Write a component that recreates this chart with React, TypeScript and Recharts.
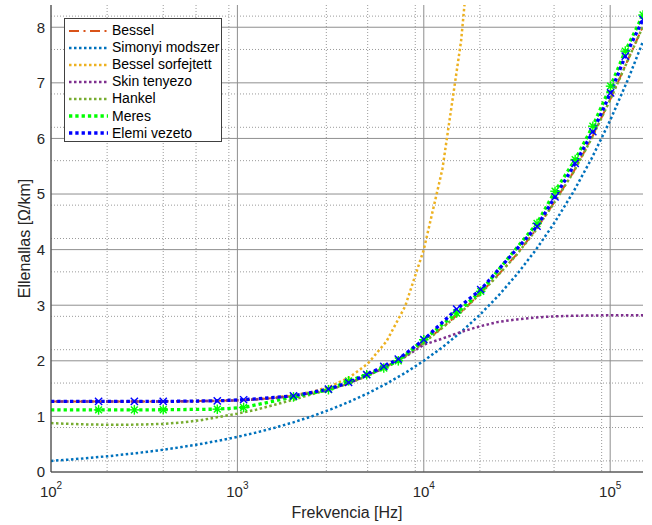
import React from "react"
import { LineChart, Line, XAxis, YAxis, CartesianGrid, Legend } from "recharts"

const FONT = '"Liberation Sans", Arial, Helvetica, sans-serif'
const TEXT = "#262626"

// frequency grid of the computed curves [Hz]
const freq = [
  100, 126, 158, 200, 251, 316, 398, 501, 631, 794, 1000, 1259, 1585, 1995, 2512, 3162, 3981, 5012, 6310, 7943,
  10000, 12589, 15849, 19953, 25119, 31623, 39811, 50119, 63096, 79433, 100000, 125893, 150000,
]

// resistance [Ohm/km]
const bessel = [
  1.27, 1.27, 1.27, 1.27, 1.27, 1.27, 1.27, 1.272, 1.275, 1.28, 1.29, 1.305, 1.33, 1.37, 1.42, 1.49, 1.6, 1.74, 1.9,
  2.09, 2.33, 2.6, 2.88, 3.2, 3.55, 3.92, 4.35, 4.85, 5.38, 6.0, 6.7, 7.45, 8.02,
]
const simonyi = [
  0.2, 0.224, 0.251, 0.283, 0.317, 0.356, 0.399, 0.448, 0.502, 0.564, 0.632, 0.71, 0.796, 0.893, 1.002, 1.125, 1.262,
  1.416, 1.589, 1.782, 2.0, 2.244, 2.518, 2.825, 3.17, 3.557, 3.99, 4.478, 5.024, 5.637, 6.325, 7.096, 7.746,
]
const sorfejtett = [
  1.27, 1.27, 1.27, 1.27, 1.27, 1.27, 1.271, 1.273, 1.276, 1.282, 1.29, 1.31, 1.34, 1.38, 1.44, 1.54, 1.7, 1.95, 2.35,
  2.98, 4.0, 5.45, 7.75, 11.3, null, null, null, null, null, null, null, null, null,
]
const skin = [
  1.27, 1.27, 1.27, 1.27, 1.27, 1.27, 1.27, 1.272, 1.275, 1.28, 1.29, 1.305, 1.33, 1.37, 1.42, 1.49, 1.6, 1.74, 1.89,
  2.07, 2.29, 2.4, 2.52, 2.62, 2.7, 2.745, 2.78, 2.8, 2.81, 2.815, 2.82, 2.82, 2.82,
]
const hankel = [
  0.88, 0.865, 0.855, 0.85, 0.85, 0.855, 0.865, 0.89, 0.93, 0.99, 1.05, 1.12, 1.21, 1.3, 1.4, 1.485, 1.595, 1.735,
  1.895, 2.085, 2.325, 2.595, 2.875, 3.195, 3.545, 3.915, 4.345, 4.845, 5.375, 5.995, 6.695, 7.445, 8.015,
]

// measured frequencies
const measFreq = [
  100, 180, 280, 400, 780, 1080, 2000, 3080, 3950, 4940, 6100, 7300, 10000, 15000, 20200, 40500, 50600, 64900, 80700,
  100500, 120500, 150000,
]
const meres = [
  1.117, 1.117, 1.117, 1.12, 1.13, 1.16, 1.35, 1.48, 1.64, 1.75, 1.87, 2.0, 2.38, 2.86, 3.25, 4.47, 5.05, 5.62, 6.22,
  6.94, 7.57, 8.22,
]
const elemi = [
  1.27, 1.27, 1.27, 1.27, 1.28, 1.3, 1.37, 1.49, 1.61, 1.75, 1.9, 2.03, 2.38, 2.93, 3.28, 4.42, 4.95, 5.55, 6.12,
  6.82, 7.48, 8.14,
]

const xTicks = [100, 1000, 10000, 100000]
const yTicks = [0, 1, 2, 3, 4, 5, 6, 7, 8]

const xMinor: number[] = []
for (const d of [100, 1000, 10000, 100000]) {
  for (let m = 2; m <= 9; m++) if (d * m <= 150000) xMinor.push(d * m)
}
const yMinor: number[] = []
for (let i = 1; i < 42; i++) if (i % 5 !== 0) yMinor.push(Math.round(i * 2) / 10)

const series = [
  { key: "bessel", name: "Bessel", color: "#D95319", width: 2, dash: "10 4.5 2 4.5" },
  { key: "simonyi", name: "Simonyi modszer", color: "#0072BD", width: 2.5, dash: "2.5 2.5" },
  { key: "sorfejtett", name: "Bessel sorfejtett", color: "#EDB120", width: 2.5, dash: "2.5 2.5" },
  { key: "skin", name: "Skin tenyezo", color: "#7E2F8E", width: 2.5, dash: "2.5 2.5" },
  { key: "hankel", name: "Hankel", color: "#77AC30", width: 2.5, dash: "2.5 2.5" },
  { key: "meres", name: "Meres", color: "#00FF00", width: 3.3, dash: "3.3 3" },
  { key: "elemi", name: "Elemi vezeto", color: "#0000FF", width: 3.3, dash: "3.3 3" },
]

const rows = freq.map((f, i) => ({
  f,
  bessel: bessel[i],
  simonyi: simonyi[i],
  sorfejtett: sorfejtett[i],
  skin: skin[i],
  hankel: hankel[i],
}))
const meresData = measFreq.map((f, i) => ({ f, meres: meres[i] }))
const elemiData = measFreq.map((f, i) => ({ f, elemi: elemi[i] }))

const XTick = ({ x, y, payload }: any) => (
  <text x={x} y={y} dy={17} textAnchor="middle" fontSize={15} fill={TEXT} fontFamily={FONT}>
    10
    <tspan dy={-8} fontSize={10}>
      {Math.round(Math.log10(payload.value))}
    </tspan>
  </text>
)

const XLabel = ({ viewBox }: any) => (
  <text x={viewBox.x + viewBox.width / 2} y={viewBox.y + 46} textAnchor="middle" fontSize={16} fill={TEXT} fontFamily={FONT}>
    Frekvencia [Hz]
  </text>
)

const YLabel = ({ viewBox }: any) => {
  const cx = 30
  const cy = viewBox.y + viewBox.height / 2
  return (
    <text x={cx} y={cy} transform={`rotate(-90 ${cx} ${cy})`} textAnchor="middle" fontSize={16} fill={TEXT} fontFamily={FONT}>
      Ellenallas [Ω/km]
    </text>
  )
}

const starDot = (props: any) => {
  const { cx, cy, index, payload } = props
  if (payload.f === 100) return <g key={`s-${index}`} />
  const r = 4.8
  const d = 3.4
  return (
    <g key={`s-${index}`} stroke="#00FF00" strokeWidth={1.4}>
      <line x1={cx - r} y1={cy} x2={cx + r} y2={cy} />
      <line x1={cx} y1={cy - r} x2={cx} y2={cy + r} />
      <line x1={cx - d} y1={cy - d} x2={cx + d} y2={cy + d} />
      <line x1={cx - d} y1={cy + d} x2={cx + d} y2={cy - d} />
    </g>
  )
}

const crossDot = (props: any) => {
  const { cx, cy, index, payload } = props
  if (payload.f === 100) return <g key={`x-${index}`} />
  const d = 3.6
  return (
    <g key={`x-${index}`} stroke="#0000FF" strokeWidth={1.4}>
      <line x1={cx - d} y1={cy - d} x2={cx + d} y2={cy + d} />
      <line x1={cx - d} y1={cy + d} x2={cx + d} y2={cy - d} />
    </g>
  )
}

const LegendBox = () => (
  <div
    style={{
      width: 158,
      height: 124,
      boxSizing: "border-box",
      border: "1px solid #404040",
      background: "#fff",
      paddingTop: 3,
      fontFamily: FONT,
      fontSize: 14,
      color: "#000",
    }}
  >
    {series.map((s) => (
      <div key={s.key} style={{ display: "flex", alignItems: "center", height: 17.1 }}>
        <svg width={47} height={8} style={{ flex: "none" }}>
          <line x1={4} y1={4} x2={43} y2={4} stroke={s.color} strokeWidth={s.width} strokeDasharray={s.dash} />
        </svg>
        <span style={{ whiteSpace: "nowrap", lineHeight: "17px" }}>{s.name}</span>
      </div>
    ))}
  </div>
)

export default function App() {
  return (
    <div style={{ position: "absolute", left: 0, top: 0, width: 652, height: 525, background: "#fff" }}>
      <LineChart width={652} height={525} data={rows} margin={{ top: 5, right: 9, bottom: 0, left: 0 }}>
        <CartesianGrid verticalValues={xMinor} horizontalValues={yMinor} stroke="#9a9a9a" strokeDasharray="1 2" />
        <CartesianGrid verticalValues={xTicks} horizontalValues={yTicks} stroke="#8f8f8f" />
        <XAxis
          dataKey="f"
          type="number"
          scale="log"
          domain={[100, 150000]}
          allowDataOverflow
          ticks={xTicks}
          tick={<XTick />}
          tickLine={false}
          height={53}
          axisLine={{ stroke: "#404040" }}
          label={<XLabel />}
        />
        <XAxis xAxisId="top" orientation="top" type="number" scale="log" domain={[100, 150000]} allowDataOverflow tick={false} tickLine={false} height={0} axisLine={{ stroke: "#404040" }} />
        <YAxis
          type="number"
          domain={[0, 8.4]}
          allowDataOverflow
          ticks={yTicks}
          width={51}
          tickLine={false}
          tickSize={6}
          tickMargin={0}
          tick={{ fontSize: 15, fill: TEXT, fontFamily: FONT }}
          axisLine={{ stroke: "#404040" }}
          label={<YLabel />}
        />
        <YAxis yAxisId="right" orientation="right" type="number" domain={[0, 8.4]} allowDataOverflow tick={false} tickLine={false} width={0} axisLine={{ stroke: "#404040" }} />
        <Legend
          layout="vertical"
          align="center"
          verticalAlign="middle"
          wrapperStyle={{ left: 64, top: 18, width: 158, height: 124 }}
          content={<LegendBox />}
        />
        <Line dataKey="bessel" name="Bessel" stroke="#D95319" strokeWidth={2} strokeDasharray="10 4.5 2 4.5" dot={false} activeDot={false} isAnimationActive={false} />
        <Line dataKey="simonyi" name="Simonyi modszer" stroke="#0072BD" strokeWidth={2.5} strokeDasharray="2.5 2.5" dot={false} activeDot={false} isAnimationActive={false} />
        <Line dataKey="sorfejtett" name="Bessel sorfejtett" stroke="#EDB120" strokeWidth={2.5} strokeDasharray="2.5 2.5" dot={false} activeDot={false} isAnimationActive={false} />
        <Line dataKey="skin" name="Skin tenyezo" stroke="#7E2F8E" strokeWidth={2.5} strokeDasharray="2.5 2.5" dot={false} activeDot={false} isAnimationActive={false} />
        <Line dataKey="hankel" name="Hankel" stroke="#77AC30" strokeWidth={2.5} strokeDasharray="2.5 2.5" dot={false} activeDot={false} isAnimationActive={false} />
        <Line data={meresData} dataKey="meres" name="Meres" stroke="#00FF00" strokeWidth={3.3} strokeDasharray="3.3 3" dot={starDot} activeDot={false} isAnimationActive={false} />
        <Line data={elemiData} dataKey="elemi" name="Elemi vezeto" stroke="#0000FF" strokeWidth={3.3} strokeDasharray="3.3 3" dot={crossDot} activeDot={false} isAnimationActive={false} />
      </LineChart>
    </div>
  )
}
